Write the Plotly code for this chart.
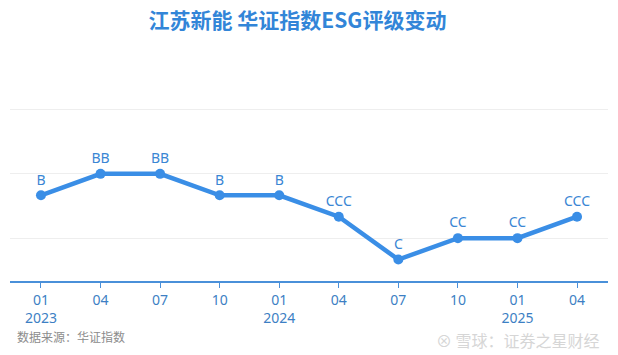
import plotly.graph_objects as go

periods = ["2023-01", "2023-04", "2023-07", "2023-10", "2024-01", "2024-04", "2024-07", "2024-10", "2025-01", "2025-04"]
tick_labels = ["01<br>2023", "04", "07", "10", "01<br>2024", "04", "07", "10", "01<br>2025", "04"]
ratings = ["B", "BB", "BB", "B", "B", "CCC", "C", "CC", "CC", "CCC"]
rating_levels = {"C": 1, "CC": 2, "CCC": 3, "B": 4, "BB": 5, "BBB": 6, "A": 7, "AA": 8, "AAA": 9}
y_vals = [rating_levels[r] for r in ratings]

blue = "#3a8ee6"
fig = go.Figure()
fig.add_trace(go.Scatter(
    x=periods, y=y_vals, mode="lines+markers+text",
    text=ratings, textposition="top center",
    textfont=dict(size=14, color="#3a86d4", family="Noto Sans, Noto Sans CJK SC"),
    line=dict(color=blue, width=4.5),
    marker=dict(color=blue, size=10),
    cliponaxis=False, hoverinfo="skip",
))

# plot area: x 10..608, y 101..281 px
pw, ph = 598, 180.6
def px(x):
    return (x - 10) / pw
def py(y):
    return (281 - y) / ph

fig.update_layout(
    width=618, height=355,
    margin=dict(l=10, r=10, t=101, b=74),
    paper_bgcolor="white", plot_bgcolor="white",
    showlegend=False,
    title=dict(text="<b>江苏新能 华证指数ESG评级变动</b>", x=297.5 / 618, xanchor="center", y=1 - 21 / 355, yanchor="middle",
               font=dict(size=21, color="#3285d8", family="Noto Sans CJK SC")),
    xaxis=dict(type="category", tickmode="array", tickvals=periods, ticktext=tick_labels,
               range=[-0.52, 9.52], showgrid=False, showline=True, linecolor="#4a90d9", linewidth=1.5,
               ticks="outside", ticklen=5, tickcolor="#4a90d9",
               tickfont=dict(size=14, color="#3d7fc4", family="Noto Sans, Noto Sans CJK SC")),
    yaxis=dict(range=[0, 8.4], tickmode="array", tickvals=[2, 5, 8], showticklabels=False,
               showgrid=True, gridcolor="#eeeeee", gridwidth=1, zeroline=False, showline=False),
    annotations=[
        dict(text="数据来源：华证指数", x=px(15), y=py(337), xref="paper", yref="paper", showarrow=False,
             xanchor="left", yanchor="middle", font=dict(size=12, color="#8c8c8c", family="Noto Sans CJK SC")),
        dict(text="⊗ 雪球：证券之星财经", x=px(602), y=py(340), xref="paper", yref="paper", showarrow=False,
             xanchor="right", yanchor="middle", font=dict(size=16, color="#d6d6d6", family="Noto Sans CJK SC")),
    ],
)

fig.write_html("out.html")
